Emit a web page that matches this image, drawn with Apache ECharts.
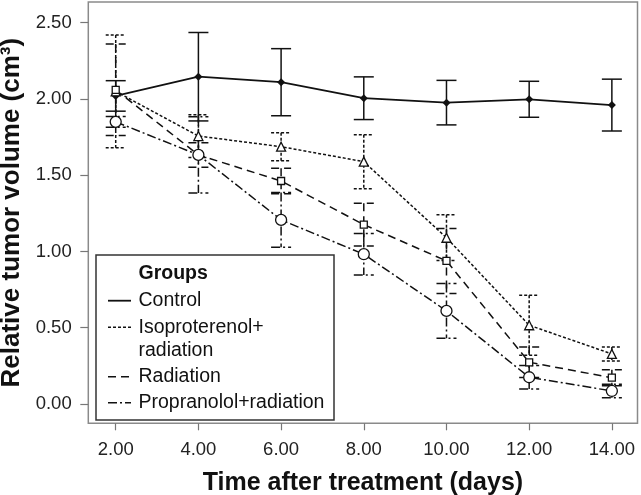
<!DOCTYPE html>
<html>
<head>
<meta charset="utf-8">
<script src="https://cdn.jsdelivr.net/npm/echarts@6/dist/echarts.min.js"></script>
<style>
html,body{margin:0;padding:0;background:#fff;}
#chart{width:641px;height:495px;}
</style>
</head>
<body>
<div id="chart"></div>
<script>
// ---- data ----
const days = [2, 4, 6, 8, 10, 12, 14];
const seriesNames = ['Control', 'Isoproterenol+radiation', 'Radiation', 'Propranolol+radiation'];
const legendLabels = ['Control', 'Isoproterenol+\nradiation', 'Radiation', 'Propranolol+radiation'];
const legendTitle = 'Groups';
const control = [2.02, 2.146, 2.11, 2.005, 1.976, 1.998, 1.96];
const controlErr = [0.10, 0.29, 0.22, 0.14, 0.146, 0.118, 0.17];
const iso = [2.05, 1.757, 1.687, 1.589, 1.09, 0.516, 0.328];
const isoErr = [0.37, 0.14, 0.092, 0.177, 0.15, 0.197, 0.046];
const radiation = [2.06, 1.633, 1.462, 1.176, 0.938, 0.273, 0.172];
const radiationErr = [0.30, 0.08, 0.084, 0.14, 0.213, 0.10, 0.052];
const propranolol = [1.85, 1.633, 1.207, 0.982, 0.61, 0.175, 0.085];
const propranololErr = [0.035, 0.25, 0.18, 0.136, 0.18, 0.077, 0.044];
const xTicks = [2, 4, 6, 8, 10, 12, 14];
const yTicks = [0, 0.5, 1, 1.5, 2, 2.5];
const xTitle = 'Time after treatment (days)';
const yTitle = 'Relative tumor volume (cm\u00B3)';

// ---- styles ----
const FONT = '"Liberation Sans", Arial, sans-serif';
const INK = '#111';
const means = [control, iso, radiation, propranolol];
const errs = [controlErr, isoErr, radiationErr, propranololErr];
const dashes = [null, [3, 2], [8, 5], [9, 3, 2, 3]];
const widths = [1.8, 1.5, 1.5, 1.5];
const symbols = ['diamond', 'triangle', 'rect', 'circle'];
const symSizes = [8, 9, 7, 11];
const filled = [true, false, false, false];

const chart = echarts.init(document.getElementById('chart'), null, {renderer: 'canvas'});

const series = [];
means.forEach((arr, i) => {
  const dash = dashes[i];
  series.push({
    type: 'custom',
    name: seriesNames[i] + ' SD',
    data: days.map((d, k) => [d, arr[k], errs[i][k]]),
    encode: {x: 0, y: 1},
    silent: true,
    z: 2,
    renderItem: function (params, api) {
      const x = api.value(0), y = api.value(1), e = api.value(2);
      const t = api.coord([x, y + e]);
      const b = api.coord([x, y - e]);
      const hw = 10;
      const st = {stroke: INK, lineWidth: 1.5, fill: null};
      if (dash) st.lineDash = dash;
      return {
        type: 'group',
        children: [
          {type: 'line', shape: {x1: t[0], y1: t[1], x2: b[0], y2: b[1]}, style: Object.assign({}, st)},
          {type: 'line', shape: {x1: t[0] - hw, y1: t[1], x2: t[0] + hw, y2: t[1]}, style: Object.assign({}, st)},
          {type: 'line', shape: {x1: b[0] - hw, y1: b[1], x2: b[0] + hw, y2: b[1]}, style: Object.assign({}, st)}
        ]
      };
    }
  });
  series.push({
    type: 'line',
    name: seriesNames[i],
    data: days.map((d, k) => [d, arr[k]]),
    symbol: symbols[i],
    symbolSize: symSizes[i],
    z: 3,
    lineStyle: {color: INK, width: widths[i], type: dash ? dash : 'solid'},
    itemStyle: filled[i] ? {color: INK} : {color: '#fff', borderColor: INK, borderWidth: 1.3},
    emphasis: {disabled: true},
    animation: false
  });
});

// legend built with graphic elements
const lgX = 96, lgY = 255, lgW = 238, lgH = 165;
const rowY = [300.7, 327.3, 376.7, 402.7];
const legendChildren = [
  {type: 'rect', shape: {x: lgX, y: lgY, width: lgW, height: lgH},
   style: {fill: '#fff', stroke: '#333', lineWidth: 1.5}},
  {type: 'text', style: {x: 138.5, y: 274, text: legendTitle, fill: INK,
   font: 'bold 19.5px ' + FONT, textVerticalAlign: 'middle'}}
];
legendLabels.forEach((lab, i) => {
  const ls = {stroke: INK, lineWidth: widths[i]};
  if (dashes[i]) ls.lineDash = dashes[i];
  legendChildren.push({type: 'line', shape: {x1: 108, y1: rowY[i], x2: 131, y2: rowY[i]}, style: ls});
  legendChildren.push({type: 'text', style: {x: 138.5, y: rowY[i] - 11.5, text: lab, fill: INK,
    font: '19.5px ' + FONT, lineHeight: 23, textVerticalAlign: 'top'}});
});

chart.setOption({
  animation: false,
  backgroundColor: '#fff',
  grid: {left: 88.3, right: 3.5, top: 2, bottom: 71.7, show: true, borderColor: '#8a8a8a', borderWidth: 1.5,
         containLabel: false, outerBoundsMode: 'none'},
  xAxis: {
    type: 'value', min: 1.337, max: 14.62,
    name: xTitle, nameLocation: 'middle', nameGap: 47,
    nameTextStyle: {fontFamily: FONT, fontSize: 25, fontWeight: 'bold', color: INK},
    axisLine: {show: false, onZero: false},
    axisTick: {show: true, length: 7, lineStyle: {color: '#777', width: 1.2}, customValues: xTicks},
    axisLabel: {customValues: xTicks, formatter: v => v.toFixed(2), fontFamily: FONT, fontSize: 18.5, color: '#222', margin: 17},
    splitLine: {show: false}
  },
  yAxis: {
    type: 'value', min: -0.127, max: 2.636,
    name: yTitle, nameLocation: 'middle', nameGap: 48,
    nameTextStyle: {fontFamily: FONT, fontSize: 26, fontWeight: 'bold', color: INK},
    axisLine: {show: false, onZero: false},
    axisTick: {show: true, length: 8, lineStyle: {color: '#777', width: 1.2}, customValues: yTicks},
    axisLabel: {customValues: yTicks, formatter: v => v.toFixed(2), fontFamily: FONT, fontSize: 18.5, color: '#222', margin: 16.6},
    splitLine: {show: false}
  },
  series: series,
  graphic: [{type: 'group', z: 100, children: legendChildren}]
});
</script>
</body>
</html>
